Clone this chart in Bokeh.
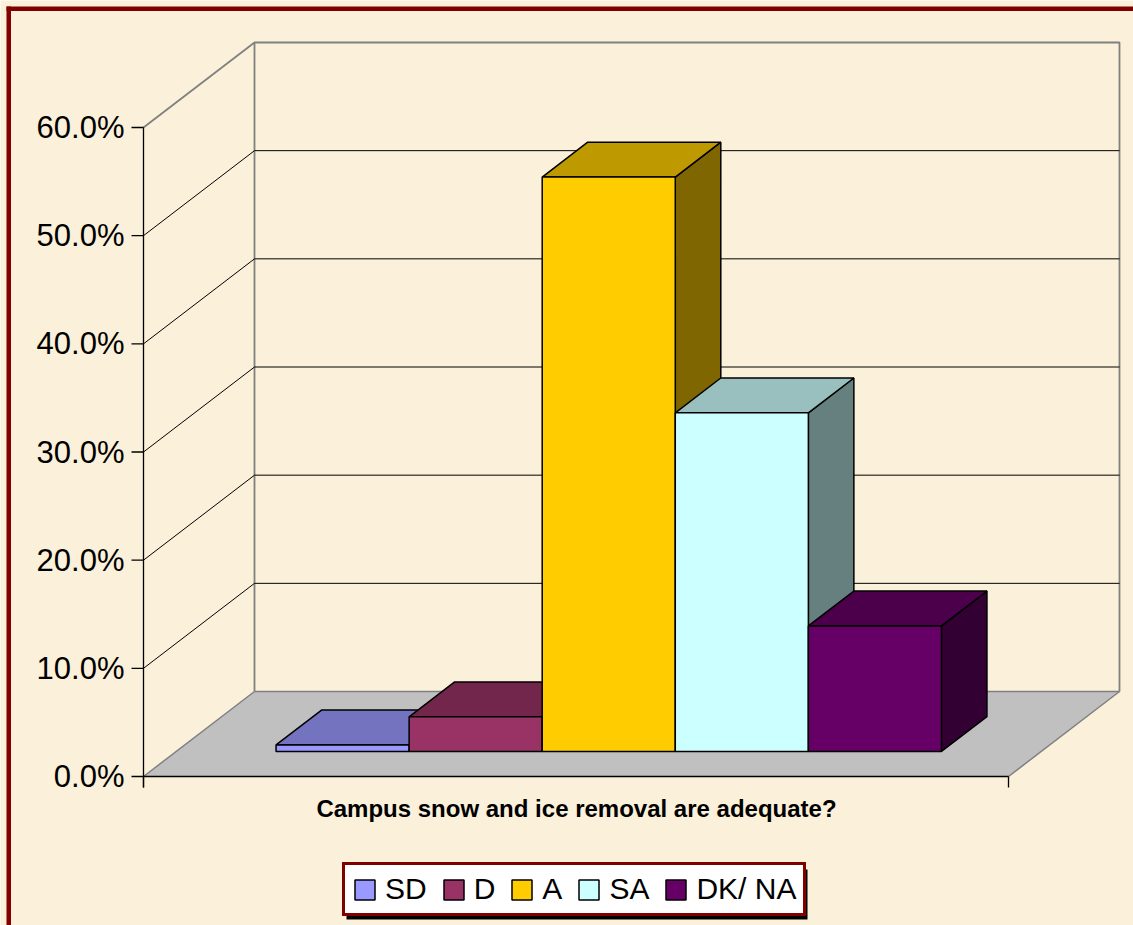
from bokeh.plotting import figure
from bokeh.models import Range1d, Legend, LegendItem
from bokeh.core.properties import value
from bokeh.embed import file_html
from bokeh.resources import INLINE

# ---------------- data ----------------
categories = ["SD", "D", "A", "SA", "DK/ NA"]
percentages = [0.6, 3.2, 53.1, 31.3, 11.6]
front_colors = ["#9999FF", "#993366", "#FFCC00", "#CCFFFF", "#660066"]
top_colors = ["#7373BF", "#73264C", "#BF9900", "#99BFBF", "#4C004C"]
side_colors = ["#4C4C80", "#4C1933", "#806600", "#668080", "#330033"]
y_ticks = [0, 10, 20, 30, 40, 50, 60]
y_tick_labels = ["0.0%", "10.0%", "20.0%", "30.0%", "40.0%", "50.0%", "60.0%"]
x_title = "Campus snow and ice removal are adequate?"

# ---------------- layout ----------------
BG = "#FBF0D9"
W, H = 1133, 925
PAGE = 0
AX_X = 143          # image x of the front value axis
FLOOR_W = 865       # image width of the floor front edge
Y_ZERO = 776        # image y of 0 %
PX_PER_UNIT = 649 / 60.0
DEPTH_DX, DEPTH_DY = 111, 85
GAP = 1.5
Z0, Z1 = 0.295, 0.705
FONT = value("Liberation Sans")


def dx(px):
    return px / FLOOR_W


def dy(px):
    return px / PX_PER_UNIT


def ix(X):
    return (X - AX_X) / FLOOR_W


def iy(Y):
    return (Y_ZERO - Y) / PX_PER_UNIT


DXd, DYd = dx(DEPTH_DX), dy(DEPTH_DY)


def P(x, y, z):
    return (x + z * DXd, y + z * DYd)


def poly(points):
    return [pt[0] for pt in points], [pt[1] for pt in points]


p = figure(width=W, height=H,
           x_range=Range1d(ix(PAGE), ix(PAGE + W)),
           y_range=Range1d(iy(PAGE + H), iy(PAGE)),
           output_backend="svg", toolbar_location=None, min_border=0,
           x_axis_type=None, y_axis_type=None,
           background_fill_color=BG, border_fill_color=BG,
           outline_line_color=None)

ymax = y_ticks[-1]

# floor
fx, fy = poly([P(0, 0, 0), P(1, 0, 0), P(1, 0, 1), P(0, 0, 1)])
p.patch(fx, fy, fill_color="#C0C0C0", line_color=None)
for a, b in [((0, 0, 0), (0, 0, 1)), ((1, 0, 0), (1, 0, 1)), ((0, 0, 1), (1, 0, 1))]:
    lx, ly = poly([P(*a), P(*b)])
    p.line(lx, ly, line_color="#808080", line_width=1.5)

# walls outline
wx, wy = poly([P(0, 0, 1), P(0, ymax, 1), P(1, ymax, 1), P(1, 0, 1)])
p.line(wx, wy, line_color="#808080", line_width=1.8)
lx, ly = poly([P(0, ymax, 0), P(0, ymax, 1)])
p.line(lx, ly, line_color="#808080", line_width=1.8)

# gridlines
for v in y_ticks[1:-1]:
    gx, gy = poly([P(0, v, 0), P(0, v, 1), P(1, v, 1)])
    p.line(gx, gy, line_color="black", line_width=1)

# front floor edge
ex, ey = poly([P(0, 0, 0), P(1, 0, 0)])
p.line(ex, ey, line_color="black", line_width=1.5)

# value axis
p.line([0, 0], [ymax, -dy(11)], line_color="black", line_width=1.3)
for v in y_ticks:
    p.line([-dx(12), 0], [v, v], line_color="black", line_width=1.3)
p.text(x=[-dx(19)] * len(y_ticks), y=y_ticks, text=y_tick_labels,
       text_align="right", text_baseline="middle", text_font=FONT,
       text_font_size=value("31px"), text_color="black")
# category ticks
for xc in [0, 1]:
    p.line([xc, xc], [0, -dy(11)], line_color="black", line_width=1.3)

# bars
w = 1.0 / (len(categories) + GAP)
front_renderers = []
for i, val in enumerate(percentages):
    x0 = GAP / 2 * w + i * w
    x1 = x0 + w
    sx, sy = poly([P(x1, 0, Z0), P(x1, 0, Z1), P(x1, val, Z1), P(x1, val, Z0)])
    p.patch(sx, sy, fill_color=side_colors[i], line_color="black", line_width=1.5)
    tx, ty = poly([P(x0, val, Z0), P(x1, val, Z0), P(x1, val, Z1), P(x0, val, Z1)])
    p.patch(tx, ty, fill_color=top_colors[i], line_color="black", line_width=1.5)
    qx, qy = poly([P(x0, 0, Z0), P(x1, 0, Z0), P(x1, val, Z0), P(x0, val, Z0)])
    r = p.patch(qx, qy, fill_color=front_colors[i], line_color="black", line_width=1.5)
    front_renderers.append(r)

# category axis title
p.text(x=[ix(576)], y=[iy(808)], text=[x_title], text_align="center",
       text_baseline="middle", text_font=FONT, text_font_size=value("24px"),
       text_font_style="bold", text_color="black")

# chart frame (dark red)
p.quad(left=[ix(6), ix(6)], right=[ix(10.5), ix(W)],
       bottom=[iy(H), iy(10.5)], top=[iy(6), iy(6)],
       fill_color="#800000", line_color=None)

# legend shadow
p.quad(left=[ix(346)], right=[ix(807)], bottom=[iy(919)], top=[iy(869)],
       fill_color="black", line_color=None)

legend = Legend(items=[LegendItem(label=c, renderers=[r]) for c, r in zip(categories, front_renderers)],
                orientation="horizontal", location=(342 - PAGE, PAGE + H - 916),
                label_text_font="Liberation Sans", label_text_font_size="30px",
                label_text_color="black", glyph_width=25, glyph_height=25,
                label_standoff=8, spacing=14, padding=7, margin=0,
                border_line_color="#800000", border_line_width=3, border_line_alpha=1.0,
                background_fill_color="white", background_fill_alpha=1.0)
p.add_layout(legend)

open("out.html", "w").write(file_html(p, INLINE))
